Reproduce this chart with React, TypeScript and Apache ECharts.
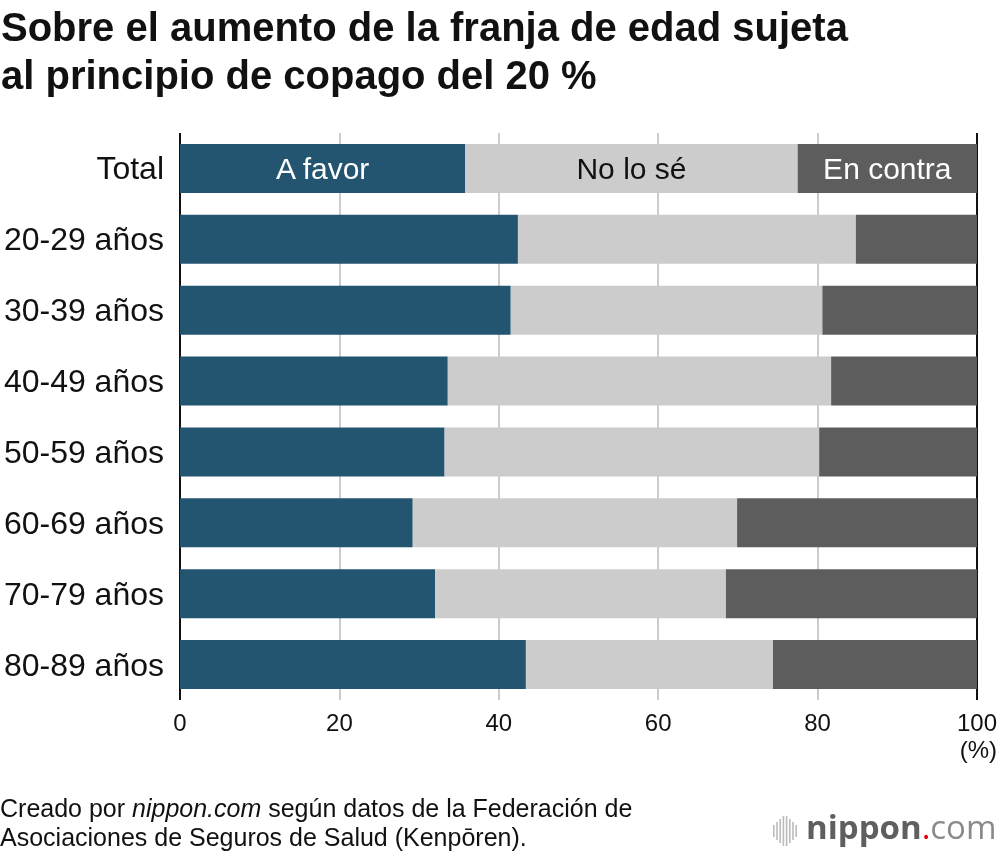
import React, { useEffect, useRef } from "react";
import * as echarts from "echarts";

const categories = [
  "Total",
  "20-29 años",
  "30-39 años",
  "40-49 años",
  "50-59 años",
  "60-69 años",
  "70-79 años",
  "80-89 años",
];
const aFavor = [35.8, 42.4, 41.5, 33.6, 33.2, 29.2, 32.0, 43.4];
const noLoSe = [41.7, 42.4, 39.1, 48.1, 47.0, 40.7, 36.5, 31.0];
const enContra = [22.5, 15.2, 19.4, 18.3, 19.8, 30.1, 31.5, 25.6];
const seriesNames = ["A favor", "No lo sé", "En contra"];
const xTicks = [0, 20, 40, 60, 80, 100];

const FONT = '"Liberation Sans", Arial, Helvetica, sans-serif';

export default function App() {
  const ref = useRef<HTMLDivElement>(null);
  useEffect(() => {
    if (!ref.current) return;
    const chart = echarts.init(ref.current, undefined, { renderer: "svg" });
    const mk = (vals: number[], name: string, color: string, labelColor: string) => ({
      type: "bar",
      name,
      stack: "s",
      barCategoryGap: "31%",
      itemStyle: { color },
      data: vals.map((v, i) =>
        i === 0
          ? {
              value: v,
              label: {
                show: true,
                position: "inside",
                formatter: name,
                color: labelColor,
                fontSize: 30,
                fontFamily: FONT,
              },
            }
          : v
      ),
    });
    chart.setOption({
      animation: false,
      textStyle: { fontFamily: FONT },
      grid: { left: 180, right: 23, top: 133, bottom: 156, containLabel: false },
      xAxis: {
        type: "value",
        min: 0,
        max: 100,
        interval: 20,
        axisLine: { show: false },
        axisTick: { show: false },
        axisLabel: {
          color: "#111",
          fontSize: 24,
          margin: 10,
          fontFamily: FONT,
          formatter: (v: number) => (xTicks.includes(v) ? String(v) : ""),
        },
        splitLine: {
          show: true,
          lineStyle: {
            color: ["#111", "#cccccc", "#cccccc", "#cccccc", "#cccccc", "#111"],
            width: 2,
          },
        },
      },
      yAxis: {
        type: "category",
        data: categories,
        inverse: true,
        axisLine: { show: false },
        axisTick: { show: false },
        axisLabel: { color: "#111", fontSize: 32, margin: 16, fontFamily: FONT },
      },
      series: [
        mk(aFavor, seriesNames[0], "#235571", "#ffffff"),
        mk(noLoSe, seriesNames[1], "#cccccc", "#111111"),
        mk(enContra, seriesNames[2], "#5d5d5d", "#ffffff"),
      ],
      graphic: [
        {
          type: "text",
          left: 1,
          top: 3,
          style: {
            text: "Sobre el aumento de la franja de edad sujeta\nal principio de copago del 20 %",
            font: `bold 40px ${FONT}`,
            lineHeight: 48,
            fill: "#111",
          },
        },
        {
          type: "text",
          right: 3,
          top: 737,
          style: { text: "(%)", font: `24px ${FONT}`, fill: "#111" },
        },
        {
          type: "text",
          left: 0,
          top: 793,
          style: {
            rich: {
              n: { font: `25px ${FONT}`, fill: "#111", lineHeight: 29 },
              i: { font: `italic 25px ${FONT}`, fill: "#111", lineHeight: 29 },
            },
            text:
              "{n|Creado por }{i|nippon.com}{n| según datos de la Federación de}\n{n|Asociaciones de Seguros de Salud (Kenpōren).}",
            lineHeight: 29,
          },
        },
        // logo icon bars
        ...[12, 18, 24, 30, 30, 24, 18, 12].map((h, k) => ({
          type: "rect",
          shape: { x: 773 + k * 3.2, y: 831 - h / 2, width: 1.6, height: h },
          style: { fill: "#bbbbbb" },
        })),
        {
          type: "text",
          left: 806,
          top: 810,
          style: {
            rich: {
              a: { font: `bold 33px "Open Sans", ${FONT}`, fill: "#5f5f5f" },
              d: { font: `33px "Open Sans", ${FONT}`, fill: "#e60012" },
              c: { font: `33px "Open Sans", ${FONT}`, fill: "#8a8a8a" },
            },
            text: "{a|nippon}{d|.}{c|com}",
          },
        },
      ],
    });
    return () => chart.dispose();
  }, []);
  return (
    <div
      ref={ref}
      style={{ position: "fixed", left: 0, top: 0, width: 1000, height: 856 }}
    />
  );
}
